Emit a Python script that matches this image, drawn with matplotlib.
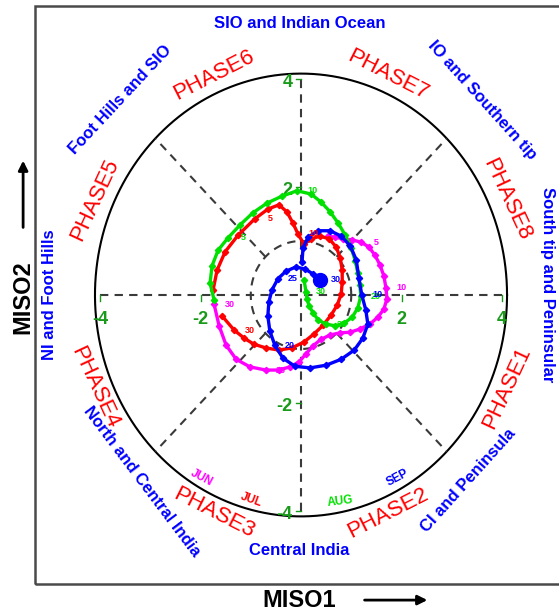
import numpy as np
import matplotlib.pyplot as plt
from matplotlib.patches import Rectangle

plt.rcParams['font.family'] = ['Liberation Sans', 'DejaVu Sans']

# daily MISO1 / MISO2 composite, one list per month
jun_x = [0.54, 0.68, 0.84, 1.02, 1.19, 1.35, 1.47, 1.57, 1.65, 1.69,
         1.71, 1.65, 1.53, 1.37, 1.17, 0.98, 0.78, 0.58, 0.40, 0.24,
         0.10, -0.04, -0.22, -0.44, -0.70, -1.02, -1.29, -1.49, -1.63, -1.73]
jun_y = [1.09, 1.07, 1.04, 1.02, 0.98, 0.89, 0.74, 0.56, 0.35, 0.13,
         -0.07, -0.26, -0.41, -0.54, -0.63, -0.69, -0.70, -0.74, -0.82, -0.94,
         -1.09, -1.24, -1.33, -1.39, -1.39, -1.33, -1.19, -0.93, -0.57, -0.17]

jul_x = [-1.75, -1.67, -1.51, -1.25, -0.92, -0.66, -0.44, -0.28, -0.16, -0.06,
         0.06, 0.20, 0.38, 0.56, 0.70, 0.78, 0.82, 0.82, 0.80, 0.72,
         0.60, 0.44, 0.26, 0.06, -0.18, -0.44, -0.70, -0.94, -1.13, -1.33, -1.57]
jul_y = [0.09, 0.46, 0.80, 1.11, 1.41, 1.59, 1.67, 1.54, 1.33, 1.13,
         0.94, 1.04, 1.09, 1.04, 0.89, 0.69, 0.46, 0.24, 0.02, -0.19,
         -0.37, -0.56, -0.72, -0.87, -0.98, -1.02, -0.98, -0.91, -0.80, -0.65, -0.39]

aug_x = [-1.73, -1.81, -1.77, -1.65, -1.45, -1.21, -0.96, -0.68, -0.38, -0.08,
         0.20, 0.40, 0.58, 0.74, 0.88, 1.00, 1.08, 1.13, 1.17, 1.19,
         1.13, 1.02, 0.86, 0.68, 0.50, 0.34, 0.24, 0.16, 0.12, 0.10, 0.06]
aug_y = [-0.09, 0.22, 0.54, 0.83, 1.06, 1.30, 1.52, 1.70, 1.83, 1.93,
         1.87, 1.72, 1.54, 1.33, 1.11, 0.87, 0.63, 0.41, 0.19, -0.02,
         -0.24, -0.41, -0.52, -0.57, -0.54, -0.46, -0.33, -0.20, -0.07, 0.06, 0.28]

sep_x = [0.02, 0.04, 0.14, 0.34, 0.58, 0.80, 0.98, 1.10, 1.15, 1.21,
         1.29, 1.33, 1.23, 1.06, 0.80, 0.50, 0.18, -0.12, -0.36, -0.52,
         -0.62, -0.66, -0.64, -0.58, -0.46, -0.30, -0.10, 0.08, 0.24, 0.38]
sep_y = [0.61, 0.87, 1.07, 1.19, 1.19, 1.09, 0.91, 0.65, 0.32, 0.00,
         -0.28, -0.54, -0.80, -1.02, -1.19, -1.30, -1.35, -1.32, -1.17, -0.93,
         -0.67, -0.39, -0.13, 0.09, 0.30, 0.44, 0.52, 0.48, 0.39, 0.28]

months = ['JUN', 'JUL', 'AUG', 'SEP']
month_colors = ['#ff00ff', '#ff0000', '#00e000', '#0000ff']
month_series = [(jun_x, jun_y), (jul_x, jul_y), (aug_x, aug_y), (sep_x, sep_y)]
# days that carry a number beside the curve
month_label_days = [[5, 10, 25, 30], [5, 10, 30], [5, 10, 20, 25, 30], [10, 20, 25, 30]]

phase_names = ['PHASE1', 'PHASE2', 'PHASE3', 'PHASE4',
               'PHASE5', 'PHASE6', 'PHASE7', 'PHASE8']
region_names = ['South tip and Peninsular', 'CI and Peninsula', 'Central India',
                'North and Central India', 'NI and Foot Hills', 'Foot Hills and SIO',
                'SIO and Indian Ocean', 'IO and Southern tip']
tick_vals = [-4, -2, 2, 4]

fig = plt.figure(figsize=(5.59, 6.15), dpi=100)
ax = fig.add_axes([0, 0, 1, 1])
ax.set_xlim(-5.99, 5.134)
ax.set_ylim(-5.926, 5.463)
ax.axis('off')

# outer frame (runs off the right edge)
ax.add_patch(Rectangle((-5.294, -5.352), 11.5, 10.704, fill=False,
                       edgecolor='#4a4a4a', lw=1.8))

# phase-space guide lines
dash = (0, (4, 3))
gc = '#3a3a3a'
t = np.linspace(0, 2 * np.pi, 400)
ax.plot(4.1 * np.cos(t), 4.1 * np.sin(t), color='black', lw=1.5)
ax.plot(np.cos(t), np.sin(t), color=gc, lw=1.5, linestyle=dash)
ax.plot([-4.0, 4.0], [0, 0], color=gc, lw=1.5, linestyle=dash)
ax.plot([0, 0], [-4.0, 4.0], color=gc, lw=1.5, linestyle=dash)
for ang in [45, 135, 225, 315]:
    c, s = np.cos(np.radians(ang)), np.sin(np.radians(ang))
    ax.plot([c, 4.1 * c], [s, 4.1 * s], color=gc, lw=1.5, linestyle=dash)

# green ticks on the axes
tick_green = '#1a9a1a'
for v in tick_vals:
    ax.plot([v, v], [0, -0.12], color=tick_green, lw=1.0)
    ax.text(v, -0.46, f'{v}', color=tick_green, fontsize=13, fontweight='bold',
            ha='center', va='center')
    ax.plot([-0.1, 0], [v, v], color=tick_green, lw=1.0)
    ax.text(-0.17, v - 0.06, f'{v}', color=tick_green, fontsize=13, fontweight='bold',
            ha='right', va='center')

# monthly trajectories
for (mx, my), col, days in zip(month_series, month_colors, month_label_days):
    ax.plot(mx, my, color=col, lw=2.4, marker='D', markersize=3.2, zorder=3)
    for d in days:
        ax.annotate(str(d), (mx[d - 1], my[d - 1]), xytext=(11, 0),
                    textcoords='offset points', color=col, fontsize=6.5,
                    fontweight='bold', ha='center', va='center', zorder=4)
ax.plot(sep_x[-1], sep_y[-1], 'o', color='#0000ff', markersize=10, zorder=5)

# month names along the bottom of the circle
month_pos = [(-1.97, -3.39, -28), (-0.99, -3.80, -20), (0.78, -3.83, 7), (1.93, -3.39, 28)]
for name, col, (px, py, rot) in zip(months, month_colors, month_pos):
    ax.text(px, py, name, color=col, fontsize=8.5, fontweight='bold',
            rotation=rot, ha='center', va='center')

# phase names
phase_pos = [(4.10, -1.72, 65), (1.73, -4.04, 27), (-1.73, -4.04, -27), (-4.10, -1.72, -65),
             (-4.10, 1.76, 65), (-1.73, 4.07, 27), (1.73, 4.07, -27), (4.10, 1.76, -65)]
for name, (px, py, rot) in zip(phase_names, phase_pos):
    ax.text(px, py, name, color='#ff0000', fontsize=16, rotation=rot,
            ha='center', va='center', rotation_mode='anchor')

# regions of active convection
region_pos = [(4.90, 0.19, -90), (3.32, -3.43, 48), (-0.04, -4.74, 0), (-3.16, -3.46, -53),
              (-5.00, 0.0, 90), (-3.60, 3.61, 47), (-0.02, 5.02, 0), (3.60, 3.61, -48)]
for name, (px, py, rot) in zip(region_names, region_pos):
    ax.text(px, py, name, color='#0000ff', fontsize=12, fontweight='bold',
            rotation=rot, ha='center', va='center', rotation_mode='anchor')

# axis titles with arrows
ax.text(-0.04, -5.65, 'MISO1', fontsize=17, fontweight='bold', ha='center', va='center')
ax.annotate('', xy=(2.57, -5.65), xytext=(1.21, -5.65),
            arrowprops=dict(arrowstyle='-|>', color='black', lw=2, mutation_scale=14))
ax.text(-5.53, -0.04, 'MISO2', fontsize=17, fontweight='bold', rotation=90,
        ha='center', va='center')
ax.annotate('', xy=(-5.53, 2.54), xytext=(-5.53, 1.20),
            arrowprops=dict(arrowstyle='-|>', color='black', lw=2, mutation_scale=14))

fig.savefig('out.png', dpi=100)
